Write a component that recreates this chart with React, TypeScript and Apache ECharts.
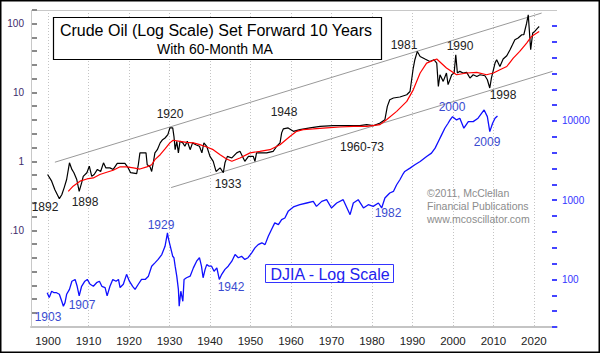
import React, { useEffect, useRef } from "react";
import * as echarts from "echarts";

// ---- Crude oil (set forward 10 years) ----
const crudeYears = [1899.9, 1900.9, 1901.7, 1902.8, 1903.4, 1904.0, 1904.6, 1905.3, 1905.9, 1906.4, 1907.1, 1907.7, 1908.3, 1908.7, 1909.6, 1910.2, 1910.8, 1911.4, 1912.2, 1913.0, 1913.7, 1914.3, 1915.3, 1916.1, 1917.1, 1919.0, 1919.8, 1920.4, 1921.9, 1922.3, 1922.7, 1924.2, 1924.5, 1925.2, 1925.6, 1926.0, 1926.4, 1927.0, 1927.7, 1928.3, 1928.9, 1929.6, 1930.1, 1930.8, 1931.1, 1931.4, 1931.8, 1932.2, 1932.6, 1933.3, 1933.8, 1934.4, 1935.1, 1935.7, 1936.5, 1937.4, 1938.0, 1938.5, 1939.2, 1940.0, 1940.8, 1941.5, 1942.5, 1943.3, 1943.7, 1944.3, 1945.4, 1946.6, 1947.4, 1948.6, 1949.5, 1950.7, 1951.1, 1951.5, 1954.0, 1955.6, 1956.5, 1957.3, 1957.7, 1958.1, 1959.3, 1960.6, 1962.2, 1964.7, 1967.2, 1970.4, 1973.8, 1977.0, 1978.7, 1980.3, 1982.0, 1983.2, 1983.8, 1984.4, 1985.3, 1986.9, 1988.6, 1989.4, 1989.8, 1990.2, 1990.6, 1991.2, 1991.9, 1993.1, 1994.3, 1995.3, 1996.0, 1996.4, 1996.8, 1997.6, 1998.4, 1998.8, 1999.7, 2000.3, 2000.7, 2001.1, 2001.7, 2002.5, 2003.4, 2004.2, 2005.0, 2005.9, 2006.7, 2007.9, 2008.5, 2009.1, 2009.5, 2010.4, 2010.8, 2011.6, 2012.4, 2013.3, 2014.1, 2014.7, 2015.3, 2016.1, 2017.0, 2017.5, 2018.2, 2018.6, 2019.2, 2019.7, 2020.2, 2020.9, 2021.3];
const crudeValues = [0.65, 0.52, 0.39, 0.29, 0.33, 0.42, 0.55, 0.96, 0.77, 0.69, 0.55, 0.37, 0.49, 0.61, 0.69, 0.86, 0.61, 0.65, 0.77, 0.72, 0.96, 0.81, 0.81, 0.77, 0.94, 0.94, 0.81, 0.69, 0.67, 0.9, 1.34, 1.34, 0.9, 0.84, 0.72, 0.96, 1.34, 1.49, 1.87, 2.08, 2.2, 2.46, 3.08, 3.08, 2.33, 1.49, 1.97, 1.34, 1.97, 1.87, 1.67, 1.97, 1.49, 1.87, 1.76, 1.67, 1.34, 1.87, 1.67, 1.19, 1.01, 0.72, 0.81, 0.69, 0.96, 1.19, 1.13, 1.34, 1.41, 1.01, 1.19, 1.19, 1.01, 1.34, 1.34, 1.41, 1.67, 1.87, 2.61, 2.98, 3.08, 2.75, 2.91, 3.08, 3.25, 3.32, 3.32, 3.32, 3.44, 3.32, 3.64, 4.06, 6.33, 7.92, 8.38, 8.66, 9.35, 10.4, 15.4, 22.8, 30.1, 39.7, 33.6, 30.8, 28.4, 30.1, 26.9, 12.3, 18.2, 14.6, 19.3, 13.1, 18.2, 19.3, 35.5, 19.3, 20.4, 19.3, 19.7, 16.3, 18.2, 17.2, 18.2, 17.6, 15.4, 11.7, 16.3, 26.9, 30.1, 24.0, 30.8, 34.4, 42.0, 49.6, 58.7, 62.1, 69.3, 69.3, 102, 135, 42.0, 73.3, 77.3, 86.6, 91.4];

// ---- 60-month moving average of crude ----
const maYears = [1905.0, 1906.2, 1907.9, 1909.6, 1911.2, 1912.8, 1914.5, 1916.1, 1917.8, 1919.4, 1921.1, 1922.7, 1924.4, 1925.6, 1926.4, 1927.7, 1928.9, 1930.1, 1930.9, 1932.6, 1934.2, 1935.9, 1937.5, 1939.2, 1940.8, 1942.5, 1944.1, 1945.4, 1947.4, 1949.9, 1952.3, 1954.8, 1957.3, 1959.8, 1961.4, 1963.0, 1965.5, 1968.8, 1972.1, 1975.4, 1978.7, 1982.0, 1983.6, 1986.1, 1988.6, 1990.2, 1991.9, 1993.5, 1996.0, 1998.4, 2000.9, 2003.4, 2005.9, 2008.3, 2010.0, 2011.6, 2013.3, 2014.9, 2016.5, 2018.2, 2019.4, 2020.7, 2021.3];
const maValues = [0.37, 0.44, 0.52, 0.56, 0.58, 0.65, 0.7, 0.75, 0.84, 0.84, 0.81, 0.78, 0.84, 0.9, 1.07, 1.26, 1.53, 1.87, 2.04, 1.97, 1.9, 1.87, 1.76, 1.63, 1.49, 1.26, 1.09, 1.01, 1.13, 1.34, 1.41, 1.49, 1.76, 2.33, 2.75, 2.91, 2.98, 3.08, 3.18, 3.25, 3.25, 3.44, 4.06, 5.36, 7.48, 11.0, 19.3, 26.9, 30.8, 22.8, 18.2, 19.3, 19.7, 18.2, 19.3, 21.5, 24.0, 31.8, 39.7, 52.5, 65.5, 73.3, 77.3];

// ---- DJIA ----
const djiaYears = [1899.8, 1900.3, 1900.9, 1901.5, 1902.1, 1902.8, 1903.4, 1903.8, 1904.2, 1904.6, 1905.3, 1905.9, 1906.7, 1907.2, 1907.7, 1908.3, 1909.1, 1909.7, 1910.4, 1911.2, 1912.0, 1912.7, 1913.3, 1914.1, 1914.6, 1915.3, 1916.0, 1916.8, 1917.4, 1917.8, 1918.6, 1919.4, 1920.1, 1920.9, 1921.5, 1922.3, 1923.1, 1924.0, 1924.8, 1925.6, 1926.4, 1927.2, 1928.1, 1928.9, 1929.5, 1929.7, 1930.1, 1930.8, 1931.1, 1931.4, 1931.8, 1932.2, 1932.4, 1932.8, 1933.3, 1933.6, 1934.2, 1935.1, 1935.9, 1936.7, 1937.4, 1937.9, 1938.3, 1938.8, 1939.2, 1939.8, 1940.4, 1941.0, 1941.7, 1942.3, 1942.9, 1943.7, 1944.5, 1945.4, 1946.2, 1947.0, 1947.8, 1948.6, 1949.4, 1950.3, 1951.1, 1951.9, 1952.8, 1953.6, 1954.4, 1955.2, 1956.0, 1956.9, 1957.7, 1958.5, 1959.3, 1960.6, 1962.2, 1963.9, 1965.5, 1966.3, 1967.6, 1968.8, 1970.0, 1971.3, 1972.9, 1974.6, 1975.4, 1976.6, 1977.9, 1979.1, 1980.3, 1981.6, 1982.4, 1983.2, 1984.4, 1985.3, 1986.1, 1986.9, 1987.7, 1988.1, 1989.4, 1990.6, 1991.9, 1993.5, 1994.7, 1995.6, 1996.4, 1997.2, 1998.0, 1998.8, 1999.3, 1999.9, 2000.9, 2001.7, 2002.7, 2003.8, 2005.0, 2006.2, 2007.7, 2008.5, 2009.1, 2009.8, 2010.4, 2011.0];
const djiaValues = [68, 59, 71, 68, 68, 65, 53, 46, 51, 65, 75, 95, 100, 82, 62, 82, 95, 100, 87, 82, 91, 95, 82, 79, 62, 82, 100, 95, 100, 79, 87, 116, 95, 82, 75, 87, 100, 100, 110, 147, 162, 179, 206, 262, 387, 335, 275, 196, 188, 147, 110, 75, 46, 71, 53, 100, 105, 110, 140, 170, 188, 147, 105, 134, 154, 147, 147, 127, 140, 100, 116, 134, 147, 170, 206, 188, 196, 179, 188, 217, 250, 275, 290, 275, 350, 426, 517, 492, 569, 597, 723, 821, 877, 922, 966, 836, 966, 1015, 798, 922, 1015, 657, 922, 1015, 798, 877, 836, 922, 798, 1066, 1233, 1291, 1567, 1811, 2154, 2303, 2541, 2797, 3077, 3556, 3924, 4537, 5495, 6666, 8093, 9356, 10300, 11330, 10300, 10820, 8093, 9800, 9800, 10820, 13750, 11330, 7330, 9356, 10820, 11560];

// ---- Channel lines on crude ----
const upperChannelYears = [1901.7, 2021.9];
const upperChannelValues = [0.98, 143];
const lowerChannelYears = [1930.4, 2024.6];
const lowerChannelValues = [0.42, 20.4];

// ---- Axes ----
const xMin = 1895.8;
const xMax = 2025.7;
const decadeTicks = [1900, 1910, 1920, 1930, 1940, 1950, 1960, 1970, 1980, 1990, 2000, 2010, 2020];
const crudeLabelValues = [0.1, 1, 10, 100];
const djiaLabelValues = [100, 1000, 10000];
const crudeTickExponents = [-2.2, -2.0, -1.8, -1.6, -1.4, -1.2, -1.0, -0.8, -0.6, -0.4, -0.2, 0, 0.2, 0.4, 0.6, 0.8, 1.0, 1.2, 1.4, 1.6, 1.8, 2.0, 2.2];
const djiaTickExponents = [1.4, 1.6, 1.8, 2.0, 2.2, 2.4, 2.6, 2.8, 3.0, 3.2, 3.4, 3.6, 3.8, 4.0, 4.2, 4.4, 4.6, 4.8, 5.0, 5.2, 5.4];

const FONT = "'Liberation Sans', Arial, Helvetica, sans-serif";
const BLACK_NOTE = "#222222";
const BLUE_NOTE = "#3a4bd0";

const notes = [
  { t: "1892", x: 45, y: 207, c: BLACK_NOTE },
  { t: "1898", x: 85, y: 202, c: BLACK_NOTE },
  { t: "1920", x: 170, y: 114, c: BLACK_NOTE },
  { t: "1933", x: 228, y: 184, c: BLACK_NOTE },
  { t: "1948", x: 284, y: 112, c: BLACK_NOTE },
  { t: "1960-73", x: 362, y: 147, c: BLACK_NOTE },
  { t: "1981", x: 404, y: 45, c: BLACK_NOTE },
  { t: "1990", x: 460, y: 46, c: BLACK_NOTE },
  { t: "1998", x: 503, y: 95, c: BLACK_NOTE },
  { t: "2000", x: 452, y: 107, c: BLUE_NOTE },
  { t: "2009", x: 487, y: 142, c: BLUE_NOTE },
  { t: "1982", x: 388, y: 213, c: BLUE_NOTE },
  { t: "1929", x: 161, y: 225, c: BLUE_NOTE },
  { t: "1942", x: 231, y: 287, c: BLUE_NOTE },
  { t: "1907", x: 82, y: 305, c: BLUE_NOTE },
  { t: "1903", x: 48, y: 317, c: BLUE_NOTE },
];

const pairs = (xs: number[], ys: number[]) => xs.map((x, i) => [x, ys[i]]);

export default function App() {
  const ref = useRef<HTMLDivElement>(null);
  useEffect(() => {
    document.body.style.margin = "0";
    if (!ref.current) return;
    const chart = echarts.init(ref.current, undefined, { renderer: "svg" });

    const graphics: any[] = [
      {
        type: "rect",
        z: 200,
        shape: { x: 0.75, y: 0.75, width: 598.5, height: 351.5 },
        style: { fill: "none", stroke: "#000", lineWidth: 1.5 },
      },
      {
        type: "rect",
        z: 5,
        shape: { x: 31, y: 10, width: 526, height: 1 },
        style: { fill: "#c8c8c8" },
      },
      {
        type: "rect",
        z: 5,
        shape: { x: 31, y: 10, width: 1, height: 317 },
        style: { fill: "#c8c8c8" },
      },
      {
        type: "rect",
        z: 100,
        shape: { x: 53.5, y: 17.5, width: 328, height: 42 },
        style: { fill: "#fff", stroke: "#000", lineWidth: 1.2 },
      },
      {
        type: "text",
        z: 101,
        style: { text: "Crude Oil (Log Scale) Set Forward 10 Years", x: 216, y: 30, fill: "#000", font: `16px ${FONT}`, textAlign: "center", textVerticalAlign: "middle" },
      },
      {
        type: "text",
        z: 101,
        style: { text: "With 60-Month MA", x: 215, y: 49, fill: "#000", font: `14px ${FONT}`, textAlign: "center", textVerticalAlign: "middle" },
      },
      {
        type: "rect",
        z: 100,
        shape: { x: 265.5, y: 264.5, width: 128, height: 18 },
        style: { fill: "#fff", stroke: "#3333ff", lineWidth: 1 },
      },
      {
        type: "text",
        z: 101,
        style: { text: "DJIA - Log Scale", x: 330, y: 274, fill: "#2222ee", font: `16px ${FONT}`, textAlign: "center", textVerticalAlign: "middle" },
      },
      ...["\u00A92011, McClellan", "Financial Publications", "www.mcoscillator.com"].map((t, i) => ({
        type: "text",
        z: 101,
        style: { text: t, x: 427, y: 193 + i * 13, fill: "#8c8c8c", font: `10.5px ${FONT}`, textAlign: "left", textVerticalAlign: "middle" },
      })),
      ...notes.map((n) => ({
        type: "text",
        z: 101,
        style: { text: n.t, x: n.x, y: n.y, fill: n.c, font: `12px ${FONT}`, textAlign: "center", textVerticalAlign: "middle" },
      })),
    ];

    chart.setOption({
      animation: false,
      backgroundColor: "#fff",
      grid: { left: 31, right: 43, top: 10, bottom: 26, containLabel: false },
      xAxis: {
        type: "value",
        min: xMin,
        max: xMax,
        axisLine: { show: true, onZero: false, lineStyle: { color: "#c4c4c4", width: 2 } },
        axisTick: { show: false, customValues: decadeTicks },
        axisLabel: {
          customValues: decadeTicks,
          color: "#222",
          fontSize: 11.5,
          fontFamily: FONT,
          margin: 8,
          formatter: (v: number) => String(Math.round(v)),
        },
        splitLine: { show: true, lineStyle: { color: "#c4c4c4", type: [1, 2], width: 1 } },
      },
      yAxis: [
        {
          type: "log",
          logBase: 10,
          min: Math.pow(10, -2.4),
          max: Math.pow(10, 2.2),
          position: "left",
          axisLine: { show: false, onZero: false },
          axisTick: { show: false },
          axisLabel: {
            customValues: crudeLabelValues,
            color: "#3d2b6b",
            fontSize: 10,
            fontFamily: FONT,
            margin: 7,
            formatter: (v: number) => (v < 0.5 ? ".10" : String(Math.round(v))),
          },
          minorTick: { show: false },
          splitLine: { show: false },
        },
        {
          type: "log",
          logBase: 10,
          min: Math.pow(10, 1.4),
          max: Math.pow(10, 5.4),
          position: "right",
          axisLine: { show: false, onZero: false },
          axisTick: { show: true, inside: true, length: 5, customValues: djiaTickExponents.map((e) => Math.pow(10, e)), lineStyle: { color: "#4444ff", width: 2 } },
          axisLabel: {
            customValues: djiaLabelValues,
            color: "#3333ff",
            fontSize: 10,
            fontFamily: FONT,
            margin: 5,
            formatter: (v: number) => String(Math.round(v)),
          },
          minorTick: { show: false },
          splitLine: { show: false },
        },
      ],
      series: [
        {
          type: "line",
          yAxisIndex: 0,
          data: pairs(upperChannelYears, upperChannelValues),
          symbol: "none",
          lineStyle: { color: "#999", width: 1 },
          z: 1,
        },
        {
          type: "line",
          yAxisIndex: 0,
          data: pairs(lowerChannelYears, lowerChannelValues),
          symbol: "none",
          lineStyle: { color: "#999", width: 1 },
          z: 1,
        },
        {
          type: "line",
          yAxisIndex: 1,
          data: pairs(djiaYears, djiaValues),
          symbol: "none",
          lineStyle: { color: "#1010ff", width: 1.3 },
          z: 2,
        },
        {
          type: "line",
          yAxisIndex: 0,
          data: pairs(crudeYears, crudeValues),
          symbol: "none",
          lineStyle: { color: "#000", width: 1.2 },
          z: 3,
        },
        {
          type: "line",
          yAxisIndex: 0,
          data: pairs(maYears, maValues),
          symbol: "none",
          lineStyle: { color: "#ff0000", width: 1.2 },
          z: 4,
        },
        {
          // crude axis tick marks, placed through the crude log scale
          type: "custom",
          yAxisIndex: 0,
          clip: false,
          silent: true,
          z: 6,
          data: crudeTickExponents.map((e) => [xMin, Math.pow(10, e)]),
          renderItem: (params: any, api: any) => {
            const pt = api.coord([api.value(0), api.value(1)]);
            return {
              type: "rect",
              shape: { x: pt[0] + 1, y: Math.round(pt[1]) - 1, width: 5, height: 2 },
              style: { fill: "#8a8a8a" },
            };
          },
        },
      ],
      graphic: graphics,
    });

    return () => chart.dispose();
  }, []);
  return <div ref={ref} style={{ position: "absolute", left: 0, top: 0, width: 600, height: 353 }} />;
}
